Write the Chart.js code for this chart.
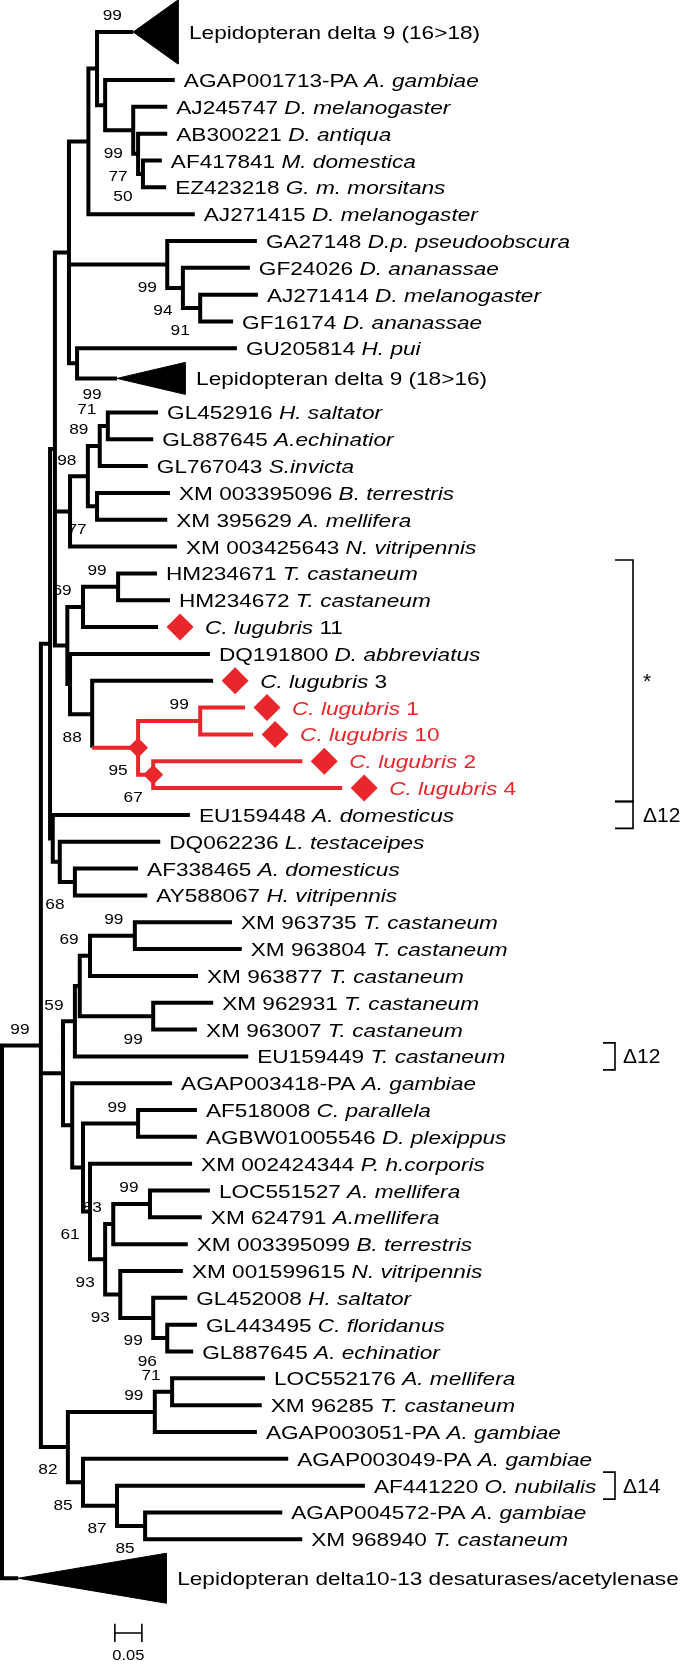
<!DOCTYPE html>
<html>
<head>
<meta charset="utf-8">
<title>Desaturase tree</title>
<script src="https://cdn.jsdelivr.net/npm/chart.js@4.4.1/dist/chart.umd.min.js"></script>
<style>
  html, body { margin: 0; padding: 0; background: #fff; }
  canvas { display: block; }
</style>
</head>
<body>
<canvas id="tree" width="685" height="1665"></canvas>
<script>
// Tips, top to bottom. Text between underscores is set in italics.
const tipLabels = [
  'Lepidopteran delta 9 (16>18)',
  'AGAP001713-PA _A. gambiae_',
  'AJ245747 _D. melanogaster_',
  'AB300221 _D. antiqua_',
  'AF417841 _M. domestica_',
  'EZ423218 _G. m. morsitans_',
  'AJ271415 _D. melanogaster_',
  'GA27148 _D.p. pseudoobscura_',
  'GF24026 _D. ananassae_',
  'AJ271414 _D. melanogaster_',
  'GF16174 _D. ananassae_',
  'GU205814 _H. pui_',
  'Lepidopteran delta 9 (18>16)',
  'GL452916 _H. saltator_',
  'GL887645 _A.echinatior_',
  'GL767043 _S.invicta_',
  'XM 003395096 _B. terrestris_',
  'XM 395629 _A. mellifera_',
  'XM 003425643 _N. vitripennis_',
  'HM234671 _T. castaneum_',
  'HM234672 _T. castaneum_',
  '_C. lugubris_ 11',
  'DQ191800 _D. abbreviatus_',
  '_C. lugubris_ 3',
  '_C. lugubris_ 1',
  '_C. lugubris_ 10',
  '_C. lugubris_ 2',
  '_C. lugubris_ 4',
  'EU159448 _A. domesticus_',
  'DQ062236 _L. testaceipes_',
  'AF338465 _A. domesticus_',
  'AY588067 _H. vitripennis_',
  'XM 963735 _T. castaneum_',
  'XM 963804 _T. castaneum_',
  'XM 963877 _T. castaneum_',
  'XM 962931 _T. castaneum_',
  'XM 963007 _T. castaneum_',
  'EU159449 _T. castaneum_',
  'AGAP003418-PA _A. gambiae_',
  'AF518008 _C. parallela_',
  'AGBW01005546 _D. plexippus_',
  'XM 002424344 _P. h.corporis_',
  'LOC551527 _A. mellifera_',
  'XM 624791 _A.mellifera_',
  'XM 003395099 _B. terrestris_',
  'XM 001599615 _N. vitripennis_',
  'GL452008 _H. saltator_',
  'GL443495 _C. floridanus_',
  'GL887645 _A. echinatior_',
  'LOC552176 _A. mellifera_',
  'XM 96285 _T. castaneum_',
  'AGAP003051-PA _A. gambiae_',
  'AGAP003049-PA _A. gambiae_',
  'AF441220 _O. nubilalis_',
  'AGAP004572-PA _A. gambiae_',
  'XM 968940 _T. castaneum_',
  'Lepidopteran delta10-13 desaturases/acetylenase'
];

// distance from the root to each tip (collapsed clades: to the triangle apex)
const tipDepth = [
  0.243, 0.320, 0.306, 0.306, 0.296, 0.304, 0.357, 0.472, 0.459, 0.474,
  0.428, 0.435, 0.213, 0.289, 0.280, 0.270, 0.311, 0.306, 0.324, 0.287,
  0.311, 0.289, 0.385, 0.391, 0.450, 0.465, 0.556, 0.630, 0.348, 0.293,
  0.252, 0.269, 0.426, 0.444, 0.363, 0.391, 0.361, 0.456, 0.315, 0.361,
  0.361, 0.352, 0.385, 0.370, 0.344, 0.335, 0.343, 0.361, 0.354, 0.487,
  0.481, 0.472, 0.530, 0.672, 0.519, 0.556, 0.030
];

// rows are 1 apart, except around the collapsed clades
const rowGaps = { 1: 1.79, 12: 1.12, 13: 1.27, 56: 1.45 };

// collapsed clades (triangles)
const cladeTips = [0, 12, 56];
const cladeReach = [0.326, 0.339, 0.304];
const cladeRows = [2.39, 1.19, 1.86];

// internal nodes
const nodeIds = [
  'root', 'A', 'R', 'P', 'Ng', 'Na', 'Nb', 'Nc', 'Nd', 'Ne', 'Nf', 'Nh', 'Nh2', 'Nh3', 'Ni',
  'Nn', 'Nl', 'Nk', 'Nj', 'Nm', 'Q', 'Np', 'No', 'Q2', 'Nr', 'Ns', 'Nt', 'Nu',
  'R2', 'Nw', 'Nv', 'Y1', 'XM5', 'XM4', 'XM2', 'XM1', 'XM3', 'Y2', 'Y3', 'NAF', 'Y4',
  'Y5', 'Y6', 'NLOC', 'Y7', 'Y8', 'Y9', 'Z1', 'Z2', 'NLOC2', 'Z3', 'Z4', 'Z5'
];
const nodeDepth = [
  0, 0.072, 0.089, 0.098, 0.124, 0.160, 0.176, 0.191, 0.243, 0.252, 0.261, 0.306, 0.335, 0.367, 0.139,
  0.126, 0.159, 0.181, 0.196, 0.176, 0.121, 0.150, 0.215, 0.126, 0.167, 0.252, 0.367, 0.280,
  0.094, 0.107, 0.135, 0.113, 0.135, 0.144, 0.163, 0.246, 0.280, 0.130, 0.150, 0.252, 0.163,
  0.191, 0.206, 0.274, 0.219, 0.280, 0.306, 0.122, 0.283, 0.315, 0.150, 0.213, 0.265
];
const nodeKids = [
  ['A', 56], ['R', 'Y1', 'Z1'], ['P', 'R2'], ['Ng', 'Nn', 'Q'], ['Na', 'Nh', 'Ni'],
  ['Nb', 6], [0, 'Nc'], [1, 'Nd'], [2, 'Ne'], [3, 'Nf'], [4, 5],
  [7, 'Nh2'], [8, 'Nh3'], [9, 10], [11, 12],
  ['Nl', 18], ['Nk', 'Nm'], ['Nj', 15], [13, 14], [16, 17],
  ['Np', 'Q2'], ['No', 21], [19, 20], [22, 'Nr'], [23, 'Ns'], ['Nt', 'Nu'], [24, 25], [26, 27],
  [28, 'Nw'], [29, 'Nv'], [30, 31],
  ['XM5', 'Y2'], ['XM4', 37], ['XM2', 'XM3'], ['XM1', 34], [32, 33], [35, 36],
  [38, 'Y3'], ['NAF', 'Y4'], [39, 40], [41, 'Y5'], ['Y6', 'Y7'], ['NLOC', 44], [42, 43],
  [45, 'Y8'], [46, 'Y9'], [47, 48],
  ['Z2', 'Z3'], ['NLOC2', 51], [49, 50], [52, 'Z4'], [53, 'Z5'], [54, 55]
];

// bootstrap support: node (or tip), value, side (a = above, b = below, l = left)
const support = [
  [0, 99, 'a'], ['Nd', 99, 'b'], ['Ne', 77, 'b'], ['Nf', 50, 'b'],
  ['Nh', 99, 'b'], ['Nh2', 94, 'b'], ['Nh3', 91, 'b'], [12, 99, 'l'],
  ['Nj', 71, 'a'], ['Nk', 89, 'a'], ['Nl', 98, 'a'], ['Nm', 77, 'b'],
  ['No', 99, 'a'], ['Np', 69, 'a'], ['Nr', 88, 'b'], ['Ns', 95, 'b'], ['Nt', 99, 'a'], ['Nu', 67, 'b'],
  ['Nv', 68, 'b'], ['A', 99, 'a'],
  ['XM1', 99, 'a'], ['XM2', 69, 'a'], ['XM5', 59, 'a'], ['XM3', 99, 'b'],
  ['NAF', 99, 'a'], ['NLOC', 99, 'a'], ['Y6', 83, 'a'], ['Y4', 61, 'b'], ['Y5', 93, 'b'],
  ['Y7', 93, 'b'], ['Y8', 99, 'b'], ['Y9', 96, 'b'],
  ['NLOC2', 71, 'a'], ['Z2', 99, 'a'], ['Z1', 82, 'b'], ['Z3', 85, 'b'], ['Z4', 87, 'b'], ['Z5', 85, 'b']
];

// C. lugubris highlights
const redNodes = ['Ns', 'Nt', 'Nu'];
const redTips = [24, 25, 26, 27];
const markedTips = [21, 23, 24, 25, 26, 27];
const markedNodes = ['Ns', 'Nu'];

// brackets on the right: first tip, last tip, label
const brackets = [[19, 27, '*'], [28, 28, '\u039412'], [37, 37, '\u039412'], [53, 53, '\u039414']];

const scaleBarStart = 0.209;
const scaleBarLength = 0.05;
const scaleBarRow = 59.67;

// ---- layout / style ----
const RED = '#e8262b';
const FONT = '"Liberation Sans", Arial, Helvetica, sans-serif';
const X_MIN = -0.0037, X_MAX = 1.2648;
const Y_MIN = -1.193, Y_MAX = 60.864;
const PX_PER_UNIT = 685 / (X_MAX - X_MIN);
const MARK_GAP = 22;               // px between tip and diamond
const SUPPORT_OFFSET = { a: [-21, -17], b: [-20, 22], l: [-25, 15] };
const BRACKET_X = [633, 633, 615, 615];
const BRACKET_TICK = [18, 18, 12, 12];

// rows of the tips
const tipRow = [];
tipLabels.forEach((_, i) => {
  tipRow[i] = i === 0 ? 0 : tipRow[i - 1] + (rowGaps[i] || 1);
});

// node positions: y is the middle of the first and last child
const pos = {};
const key = id => (typeof id === 'number' ? 't' + id : id);
function place(id) {
  if (typeof id === 'number') {
    return (pos['t' + id] = { x: tipDepth[id], y: tipRow[id] });
  }
  const k = nodeIds.indexOf(id);
  const kids = nodeKids[k].map(place);
  return (pos[id] = { x: nodeDepth[k], y: (kids[0].y + kids[kids.length - 1].y) / 2 });
}
place('root');

// branch paths, gaps as null points
const isRed = id => redNodes.includes(id) || redTips.includes(id);
const blackPath = [], redPath = [];
const GAP = { x: null, y: null };
nodeIds.forEach((id, k) => {
  const p = pos[id];
  nodeKids[k].forEach(c => {
    const q = pos[key(c)];
    const vRed = isRed(id), hRed = isRed(c);
    if (vRed === hRed) {
      (vRed ? redPath : blackPath).push({ x: p.x, y: p.y }, { x: p.x, y: q.y }, { x: q.x, y: q.y }, GAP);
    } else {
      (vRed ? redPath : blackPath).push({ x: p.x, y: p.y }, { x: p.x, y: q.y }, GAP);
      (hRed ? redPath : blackPath).push({ x: p.x, y: q.y }, { x: q.x, y: q.y }, GAP);
    }
  });
});

const triangles = cladeTips.map((t, i) => ({
  type: 'line',
  data: [
    { x: tipDepth[t], y: tipRow[t] },
    { x: cladeReach[i], y: tipRow[t] - cladeRows[i] / 2 },
    { x: cladeReach[i], y: tipRow[t] + cladeRows[i] / 2 },
    { x: tipDepth[t], y: tipRow[t] }
  ],
  fill: 'shape',
  backgroundColor: '#000',
  borderColor: '#000',
  borderWidth: 1,
  pointRadius: 0,
  order: 3
}));

const tipMarks = markedTips.map(t => ({ x: tipDepth[t] + MARK_GAP / PX_PER_UNIT, y: tipRow[t] }));
const nodeMarks = markedNodes.map(n => ({ x: pos[n].x, y: pos[n].y }));

const tick = 0.34;
const scaleBarPath = [
  { x: scaleBarStart, y: scaleBarRow - tick }, { x: scaleBarStart, y: scaleBarRow + tick }, GAP,
  { x: scaleBarStart, y: scaleBarRow }, { x: scaleBarStart + scaleBarLength, y: scaleBarRow }, GAP,
  { x: scaleBarStart + scaleBarLength, y: scaleBarRow - tick }, { x: scaleBarStart + scaleBarLength, y: scaleBarRow + tick }
];

// text with _italic_ runs, squeezed to the figure's wide lettering
function drawText(ctx, x, y, label, size, sx, color, align) {
  const parts = label.split('_');
  ctx.save();
  ctx.fillStyle = color;
  ctx.textBaseline = 'alphabetic';
  ctx.textAlign = 'left';
  let total = 0;
  parts.forEach((p, i) => {
    ctx.font = (i % 2 ? 'italic ' : '') + size + 'px ' + FONT;
    total += ctx.measureText(p).width;
  });
  ctx.translate(x, y);
  ctx.scale(sx, 1);
  let cx = align === 'center' ? -total / 2 : 0;
  parts.forEach((p, i) => {
    ctx.font = (i % 2 ? 'italic ' : '') + size + 'px ' + FONT;
    ctx.fillText(p, cx, 0);
    cx += ctx.measureText(p).width;
  });
  ctx.restore();
}

const treeText = {
  id: 'treeText',
  beforeDatasetsDraw(chart) {
    const ctx = chart.ctx;
    const px = v => chart.scales.x.getPixelForValue(v);
    const py = v => chart.scales.y.getPixelForValue(v);
    support.forEach(([id, val, side]) => {
      const p = pos[key(id)];
      const [dx, dy] = SUPPORT_OFFSET[side];
      drawText(ctx, px(p.x) + dx, py(p.y) + dy + 5.4, String(val), 15, 1.15, '#000', 'center');
    });
  },
  afterDatasetsDraw(chart) {
    const ctx = chart.ctx;
    const px = v => chart.scales.x.getPixelForValue(v);
    const py = v => chart.scales.y.getPixelForValue(v);

    tipLabels.forEach((label, i) => {
      const c = cladeTips.indexOf(i);
      let x;
      if (c >= 0) x = px(cladeReach[c]) + 11;
      else if (markedTips.includes(i)) x = px(tipDepth[i]) + 47;
      else x = px(tipDepth[i]) + 9;
      drawText(ctx, x, py(tipRow[i]) + 7, label, 19, 1.19, redTips.includes(i) ? RED : '#000', 'left');
    });

    ctx.save();
    ctx.strokeStyle = '#000';
    ctx.lineWidth = 1.6;
    brackets.forEach(([a, b, text], i) => {
      const x = BRACKET_X[i], w = BRACKET_TICK[i];
      const top = py(tipRow[a]) - 13.5, bot = py(tipRow[b]) + 13.5;
      ctx.beginPath();
      ctx.moveTo(x - w, top);
      ctx.lineTo(x, top);
      ctx.lineTo(x, bot);
      ctx.lineTo(x - w, bot);
      ctx.stroke();
      drawText(ctx, x + (w > 15 ? 10 : 8), (top + bot) / 2 + 7, text, 20, 1.05, '#000', 'left');
    });
    ctx.restore();

    drawText(ctx, px(scaleBarStart + scaleBarLength / 2), py(scaleBarRow) + 27, '0.05', 15, 1.1, '#000', 'center');
  }
};

new Chart(document.getElementById('tree'), {
  type: 'scatter',
  data: {
    datasets: [
      {
        type: 'scatter', data: tipMarks, pointStyle: 'rectRot', pointRadius: 13.5,
        pointBackgroundColor: RED, pointBorderWidth: 0, order: 0
      },
      {
        type: 'scatter', data: nodeMarks, pointStyle: 'rectRot', pointRadius: 10,
        pointBackgroundColor: RED, pointBorderWidth: 0, order: 0
      },
      {
        type: 'line', data: redPath, borderColor: RED, borderWidth: 4,
        pointRadius: 0, fill: false, spanGaps: false, order: 1
      },
      {
        type: 'line', data: blackPath, borderColor: '#000', borderWidth: 4,
        pointRadius: 0, fill: false, spanGaps: false, order: 2
      },
      {
        type: 'line', data: scaleBarPath, borderColor: '#000', borderWidth: 1.6,
        pointRadius: 0, fill: false, spanGaps: false, order: 2
      },
      ...triangles
    ]
  },
  options: {
    responsive: false,
    animation: false,
    devicePixelRatio: 1,
    events: [],
    layout: { padding: 0, autoPadding: false },
    plugins: { legend: { display: false }, tooltip: { enabled: false } },
    scales: {
      x: { type: 'linear', min: X_MIN, max: X_MAX, display: false },
      y: { type: 'linear', min: Y_MIN, max: Y_MAX, reverse: true, display: false }
    }
  },
  plugins: [treeText]
});
</script>
</body>
</html>
